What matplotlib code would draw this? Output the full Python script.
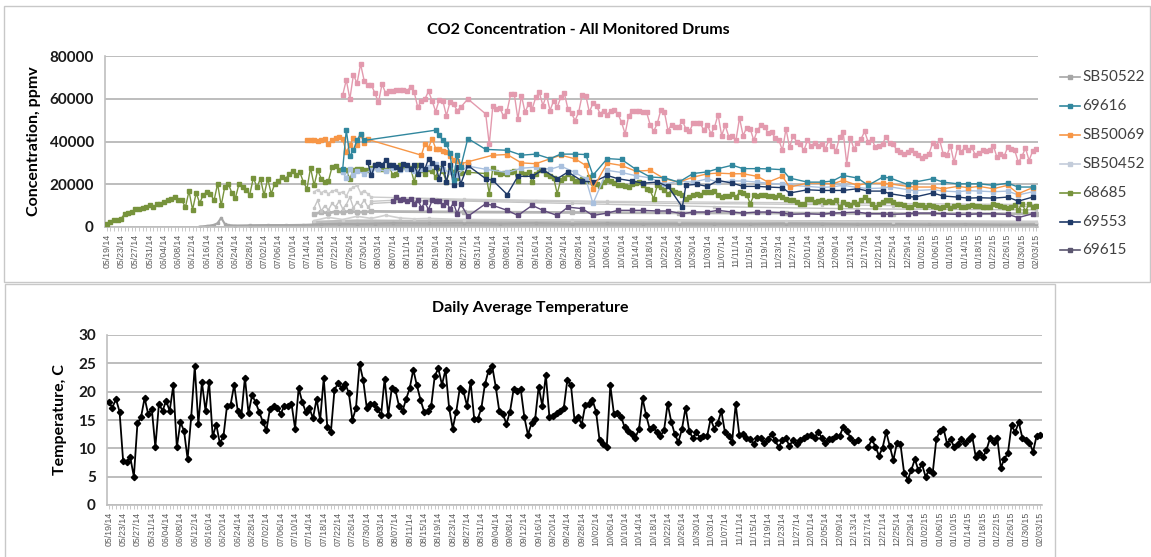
import matplotlib

matplotlib.use('Agg')
import matplotlib.pyplot as plt
from matplotlib.lines import Line2D
from matplotlib.patches import Rectangle
import numpy as np
import pandas as pd

# categories: one per day
start_date = '2014-05-19'
end_date = '2015-02-03'
dates = pd.date_range(start_date, end_date, freq='D')
label_step = 4

# daily average temperature, C (None = no reading)
temp = [
    18.1, 17.2, 18.7, 16.5, 7.8, 7.6, 8.4, 5.0, 14.4, 15.5,
    18.9, 16.0, 17.0, 10.2, 17.9, 16.6, 18.4, 16.6, 21.1, 10.2,
    14.6, 13.1, 8.1, 15.5, 24.5, 14.3, 21.7, 16.6, 21.7, 12.1,
    14.2, 10.9, 12.1, 17.5, 17.7, 21.2, 16.6, 15.8, 22.5, 16.2,
    19.4, 18.1, 16.4, 14.7, 13.2, 17.0, 17.4, 17.2, 16.1, 17.5,
    17.5, 17.9, 13.5, 20.6, 18.2, 16.4, 17.1, 15.3, 18.7, 15.0,
    22.4, 13.8, 12.9, 20.3, 21.5, 20.6, 21.4, 19.8, 15.0, 17.1,
    24.9, 22.1, 17.2, 17.9, 17.8, 16.9, 15.8, 22.3, 15.9, 20.6,
    20.3, 17.5, 16.6, 18.7, 20.6, 23.9, 21.1, 18.6, 16.5, 16.6,
    17.5, 22.8, 24.1, 21.2, 23.9, 17.1, 13.5, 16.5, 20.7, 20.1,
    17.5, 21.7, 15.2, 15.2, 17.1, 21.3, 23.7, 24.6, 20.9, 16.6,
    16.1, 14.3, 16.5, 20.4, 20.1, 20.4, 15.5, 12.4, 14.4, 15.1,
    20.9, 17.5, 22.9, 15.5, 15.7, 16.2, 16.6, 17.1, 22.1, 21.2,
    15.0, 15.6, 14.2, 17.6, 17.8, 18.6, 16.5, 11.4, 10.8, 10.3,
    21.1, 16.1, 16.3, 15.6, 13.7, 13.1, 12.5, 11.9, 13.4, 18.8,
    15.8, 13.4, 13.8, 12.8, 12.2, 13.2, 17.9, 14.7, 12.5, 11.1,
    13.4, 17.2, 13.1, 11.8, 12.8, 11.9, 12.2, 12.1, 15.2, 13.5,
    14.5, 16.6, 12.8, 12.1, 11.2, 17.8, 12.4, 12.6, 11.8, 11.6,
    10.8, 11.8, 11.8, 10.9, 11.6, 12.5, 11.4, 10.2, 11.4, 11.8,
    10.4, 11.5, 10.8, 11.4, 11.9, 12.2, 12.4, 11.9, 12.9, 11.9,
    11.0, 11.6, 11.6, 12.2, 12.2, 13.7, 13.1, 11.9, 11.1, 11.4,
    None, None, 10.2, 11.6, 10.3, 8.7, 10.1, 12.9, 10.4, 7.9,
    10.9, 10.7, 5.7, 4.5, 6.1, 8.1, 6.1, 7.2, 5.0, 6.2,
    5.7, 11.6, 13.1, 13.5, 10.8, 11.6, 10.2, 10.8, 11.6, 11.0,
    11.6, 12.2, 8.5, 9.2, 8.4, 9.7, 11.8, 11.2, 11.9, 6.6,
    8.1, 9.2, 14.1, 12.8, 14.6, 11.9, 11.4, 11.0, 9.4, 12.2,
    12.4,
]

# CO2, thousands of ppmv
# 68685, daily from the first day
green_start = 0
green_vals = [
    1.6, 2.3, 3.1, 3.4, 3.9, 6.2, 6.5, 7.0, 8.4, 8.4,
    8.7, 9.3, 10.1, 9.3, 10.6, 10.6, 11.7, 12.4, 13.2, 14.0,
    12.8, 12.4, 9.3, 16.8, 8.1, 15.9, 11.2, 15.2, 16.3, 15.6,
    12.4, 20.2, 10.1, 18.7, 20.2, 15.9, 13.7, 20.2, 18.7, 17.1,
    15.2, 23.0, 18.7, 22.6, 14.8, 22.6, 15.6, 20.2, 21.5, 23.3,
    22.6, 24.6, 26.1, 24.1, 25.7, 21.0, 17.9, 27.7, 19.5, 26.5,
    22.6, 21.0, 21.5, 28.0, 28.6, 26.5, 26.1, 26.5, 22.6, 26.8,
    27.2, 27.2, 26.5, 26.8, 27.7, 28.8, 27.2, 27.2, 26.5, 28.8,
    24.1, 24.6, 28.8, 28.3, 28.0, 27.7, 21.0, 28.8,
    26.5, 25.0, 27.0, 26.0, 23.5, 27.5, 26.0, 21.0, 26.8, 25.5,
    23.0, 25.2, None, 25.6, None, None, None, None, 25.0, 15.6,
    27.7, 25.7, 24.9, 25.2, 24.9, 25.7, 26.0, 21.3, 25.7, 24.9,
    25.7, 21.0, 24.9, 26.8, 26.5, 24.9, 23.7, 23.0, 15.6, 22.1,
    23.0, 24.9, 23.0, 21.5, 21.5, 22.6, 21.5, 23.3, 20.5, 20.2,
    19.0, 21.0, 22.1, 21.5, 20.5, 19.5, 19.5, 19.0, 18.7, 20.2,
    20.5, 21.0, 19.5, 17.9, 17.1, 13.2, 19.5, 18.7, 17.1, 15.6,
    17.1, 16.3, 15.9, 15.2, 13.2, 14.0, 15.2, 15.6, 14.8, 16.3,
    16.3, 16.3, 16.8, 14.8, 14.0, 14.3,
    14.3, 15.6, 14.0, 16.3, 15.9, 15.2, 10.9, 14.8, 14.3, 14.8,
    14.8, 14.3, 14.5, 14.0, 15.2, 14.0, 13.2, 12.8, 12.4, 11.7,
    10.9, 10.6, 13.2, 13.2, 11.7, 12.1, 12.4, 11.7, 12.1, 11.7,
    12.8, 9.3, 11.7, 10.9, 10.1, 11.7, 10.9, 12.4, 14.0, 12.4,
    10.6, 9.3, 10.9, 11.7, 12.4, 12.8, 11.7, 10.9, 10.6, 10.1,
    9.3, 9.3, 10.9, 10.1, 10.1, 9.3, 10.1, 9.6, 9.3, 9.0,
    9.3, 10.1, 9.0, 9.6, 10.1, 9.3, 9.3, 9.6, 10.1, 9.6,
    9.6, 9.3, 9.3, 9.3, 10.9, 10.1, 9.6, 9.3, 9.0, 9.3,
    10.1, 8.1, 10.9, 7.5, 10.6, 9.3, 9.6,
]

# pink drum (legend entry cut off), daily from 07/24
pink_start = 66
pink_vals = [
    61.8, 68.8, 59.9, 71.3, 67.2, 76.2, 68.5, 66.4, 66.6, 62.6,
    58.3, 66.9, 62.6, 63.5, 63.8, 64.1, 64.1, 64.1, 63.5, 65.7,
    63.0, 56.0, 59.1, 59.9, 63.5, 59.1, 54.0, 59.6, 59.1, 52.1,
    58.3, 57.6, 54.5, 56.0, None, 59.9, None, None, None, None,
    52.9, 38.6, 56.8, 55.2, 55.5, 51.7, 54.5, 62.2, 62.2, 50.4,
    61.5, 53.7, 57.6, 55.2, 60.7, 63.0, 56.8, 61.9, 54.5, 59.1,
    56.0, 60.7, 62.6, 55.2, 53.2, 49.8, 53.7, 61.8, 61.5, 53.7,
    57.9, 56.8, 52.9, 54.5, 52.6, 54.5, 54.8, 52.9, 49.0, 43.6,
    52.1, 54.1, 54.5, 54.1, 53.8, 53.7, 47.9, 44.8, 48.5, 54.8,
    53.7, 45.1, 47.9, 47.0, 46.7, 49.8, 45.9, 44.7, 48.5, 48.5,
    48.5, 45.4, 47.9, 43.6, 46.7, 52.6, 42.8, 47.5, 42.3, 42.8,
    40.5, 51.0, 42.8, 46.4, 45.9, 40.5, 45.4, 47.5, 47.0, 43.9,
    44.3, 41.7, 40.8, 35.8, 45.9, 37.3, 42.8, 39.7, 38.9, 35.8,
    40.5, 38.1, 39.2, 38.1, 38.6, 36.6, 40.5, 38.1, 35.5, 42.0,
    44.3, 29.6, 41.7, 36.6, 39.2, 41.2, 44.7, 39.7, 41.2, 37.3,
    38.1, 38.9, 42.3, 39.2, 38.9, 35.8, 35.0, 34.2, 35.0, 35.8,
    34.5, 33.9, 32.4, 33.0, 34.2, 39.2, 38.1, 40.5, 34.2, 33.5,
    38.1, 30.3, 37.3, 35.0, 37.3, 35.8, 37.3, 33.5, 34.5, 35.8,
    35.5, 35.8, 38.1, 32.7, 34.2, 33.0, 37.3, 36.6, 35.8, 30.3,
    33.0, 37.0, 31.1, 35.5, 36.6,
]

# 69616
teal_days = [66, 67, 68, 69, 70, 71, 72, 92, 93, 94, 95, 96, 97, 98, 99, 101,
             106, 112, 116, 120, 124, 127, 131, 134, 136, 140, 144, 148, 152, 156,
             160, 164, 168, 171, 175, 178, 182, 185, 189, 191, 196, 200, 203, 206,
             210, 213, 217, 219, 224, 226, 231, 234, 238, 241, 244, 248, 252, 255, 259]
teal_vals = [27.2, 45.4, 33.0, 36.1, 40.5, 43.6, 40.5, 45.3, 43.0, 40.6, 39.0, 34.5, 22.0, 33.5, 28.0, 41.4,
             36.3, 35.9, 33.6, 34.1, 32.0, 34.1, 34.1, 33.9, 24.2, 32.0, 31.6, 27.0, 23.4, 23.0,
             21.0, 25.0, 25.8, 27.3, 28.9, 27.3, 27.3, 27.2, 26.8, 22.9, 21.0, 21.0, 21.5, 24.1,
             22.9, 19.5, 23.3, 23.0, 19.9, 21.0, 22.6, 21.0, 20.2, 20.2, 20.2, 19.5, 20.5, 18.7, 18.7]

# SB50069
orange_days = [56, 57, 58, 59, 60, 61, 62, 63, 64, 65, 66, 67, 68, 69, 70, 71, 72, 73,
               88, 89, 90, 91, 92, 93, 94, 95, 96, 97, 98, 99, 101, 108, 112, 116, 120,
               124, 127, 131, 134, 136, 140, 144, 148, 152, 156, 160, 164, 168, 171, 175,
               178, 182, 185, 189, 191, 196, 200, 203, 206, 210, 213, 217, 219, 224, 226,
               231, 234, 238, 241, 244, 248, 252, 255, 259]
orange_vals = [40.5, 40.5, 40.8, 40.2, 40.6, 41.0, 39.0, 40.8, 41.5, 42.0, 41.2, 35.0, 38.5, 41.5, 38.5, 43.0, 39.5, 41.0,
               33.6, 39.0, 37.0, 41.4, 36.7, 36.5, 35.5, 35.0, 33.0, 31.5, 31.0, 29.5, 30.5, 33.6, 33.9, 30.0, 29.6,
               31.9, 33.6, 31.9, 28.8, 18.0, 29.9, 28.8, 26.1, 26.5, 22.6, 21.0, 23.3, 24.9, 25.2, 24.9,
               24.9, 23.7, 21.0, 23.7, 18.7, 20.5, 20.5, 20.2, 21.8, 19.5, 20.5, 20.5, 20.2, 19.0, 18.7,
               18.7, 17.9, 19.0, 18.4, 19.0, 17.9, 19.5, 15.6, 18.4]

# SB50452
lblue_days = [66, 67, 68, 69, 70, 72, 74, 76, 78, 80, 82, 84, 86, 88, 90, 92, 94, 96, 98, 101,
              106, 112, 116, 120, 124, 127, 131, 134, 136, 140, 144, 148, 152, 156, 160, 164,
              168, 171, 175, 178, 182, 185, 189, 191, 196, 200, 203, 206, 210, 213, 217, 219,
              224, 226, 231, 234, 238, 241, 244, 248, 252, 255, 259]
lblue_vals = [25.5, 23.0, 27.0, 24.5, 26.0, 25.0, 26.5, 27.0, 26.0, 27.5, 26.8, 27.2, 26.0, 27.0, 28.0, 29.5, 27.0, 25.5, 24.5, 28.5,
              27.0, 25.5, 27.5, 28.0, 27.0, 28.5, 25.5, 22.5, 11.0, 26.5, 25.5, 24.0, 23.0, 20.0, 21.5, 21.0,
              22.5, 21.0, 21.5, 21.5, 21.0, 20.5, 20.0, 19.5, 19.0, 18.5, 18.8, 19.5, 18.5, 18.0, 18.2, 18.8,
              17.5, 17.0, 17.5, 16.8, 16.5, 17.0, 16.8, 16.5, 16.8, 15.0, 16.5]

# 69553
navy_days = [73, 74, 75, 76, 77, 78, 79, 80, 81, 82, 83, 84, 85, 86, 87, 88, 89, 90, 91, 92,
             93, 94, 95, 96, 97, 98, 99, 101, 106, 108, 112, 115, 119, 122, 126, 129, 133,
             136, 140, 143, 147, 150, 154, 157, 161, 162, 165, 168, 171, 175, 178, 182, 185,
             189, 191, 196, 200, 203, 206, 210, 213, 217, 219, 224, 226, 231, 234, 238, 241,
             244, 248, 252, 255, 259]
navy_vals = [30.3, 24.1, 28.8, 29.6, 28.8, 31.4, 28.8, 28.8, 28.3, 27.2, 29.6, 28.8, 27.2, 28.8, 24.9, 28.8, 27.2, 31.9, 29.9, 28.3,
             22.6, 29.9, 21.0, 28.8, 19.5, 28.0, 20.2, 28.8, 22.6, 21.8, 15.2, 23.7, 23.7, 26.8, 22.6, 25.7, 21.5,
             21.0, 24.1, 22.6, 21.5, 20.5, 21.0, 19.0, 9.3, 19.5, 20.0, 19.0, 21.8, 20.5, 19.0, 19.0, 18.7,
             18.4, 15.9, 17.4, 17.1, 17.1, 17.1, 17.9, 16.8, 16.8, 15.6, 14.3, 14.0, 15.9, 14.5, 14.0, 13.5,
             13.7, 13.5, 14.0, 12.1, 14.0]

# 69615
purple_days = [80, 81, 82, 83, 84, 85, 86, 87, 88, 89, 90, 91, 92, 93, 94, 95, 96, 97, 98, 99,
               101, 106, 108, 112, 115, 119, 122, 126, 129, 133, 136, 140, 143, 147, 150,
               154, 157, 161, 164, 168, 171, 175, 178, 182, 185, 189, 191, 196, 200, 203,
               206, 210, 213, 217, 219, 224, 226, 231, 234, 238, 241, 244, 248, 252, 255, 259]
purple_vals = [12.1, 14.0, 12.4, 13.2, 12.1, 13.2, 10.9, 12.8, 9.0, 11.5, 8.1, 12.4, 12.1, 12.1, 10.1, 11.7, 8.6, 11.2, 6.2, 10.9,
               5.0, 10.9, 10.1, 7.8, 5.4, 10.1, 7.8, 5.4, 9.3, 8.6, 5.4, 6.5, 7.8, 7.8, 7.8,
               7.5, 7.5, 6.2, 7.0, 7.0, 7.8, 7.0, 6.5, 7.0, 7.0, 6.7, 5.9, 6.2, 5.9, 6.5,
               6.7, 7.0, 6.2, 6.2, 5.9, 6.2, 6.5, 6.5, 6.2, 5.9, 5.9, 6.2, 6.2, 5.9, 4.4, 6.2]

# SB50522
sb50522_days = [26, 28, 30, 31, 32, 33, 34, 36, 40, 45, 50, 55, 60, 65, 70, 75, 80, 90, 100, 110,
                120, 130, 140, 150, 160, 170, 180, 190, 200, 210, 220, 230, 240, 250, 260]
sb50522_vals = [0.2, 0.5, 1.0, 1.8, 4.3, 1.5, 0.9, 0.7, 0.8, 0.9, 0.9, 1.0, 1.3, 1.5, 1.4, 1.6, 1.8, 1.7, 1.9, 1.6,
                1.8, 1.5, 1.7, 1.5, 1.6, 1.5, 1.4, 1.6, 1.5, 1.3, 1.4, 1.2, 1.3, 1.1, 1.2]

# other drums, grey, no legend entry
grey2_days = [58, 59, 60, 61, 62, 63, 64, 65, 66, 67, 68, 69, 70, 71, 72, 73, 74, 100, 140, 180, 220, 260]
grey2_vals = [16.5, 17.5, 16.0, 17.0, 15.5, 16.8, 17.2, 15.8, 16.5, 14.5, 17.8, 18.5, 19.5, 16.0, 17.0, 15.5, 14.0,
              13.0, 12.0, 11.5, 11.0, 10.5]
grey3_days = [58, 59, 60, 61, 62, 63, 64, 65, 66, 67, 68, 69, 70, 71, 72, 73, 74, 90, 130, 170, 210, 260]
grey3_vals = [9.0, 12.5, 7.5, 10.0, 8.0, 11.0, 9.5, 12.0, 8.5, 10.5, 14.0, 9.0, 11.5, 10.0, 12.5, 9.5, 11.0,
              12.5, 11.0, 9.5, 8.5, 8.0]
grey4_days = [58, 60, 62, 64, 66, 68, 70, 72, 74, 100, 130, 160, 190, 220, 260]
grey4_vals = [6.0, 7.0, 6.5, 7.2, 6.8, 7.5, 6.9, 7.0, 7.3, 7.0, 6.8, 6.6, 6.5, 6.3, 6.2]
grey5_days = [58, 62, 66, 70, 74, 78, 82, 86, 90, 100, 130, 160, 190, 220, 260]
grey5_vals = [3.0, 4.5, 3.5, 5.0, 4.0, 5.5, 4.2, 3.8, 4.0, 3.5, 3.2, 3.0, 2.8, 2.5, 2.4]
grey6_days = [74, 80, 86, 92, 100, 120, 140, 160, 180, 200, 220, 240, 260]
grey6_vals = [12.0, 12.5, 12.0, 13.0, 12.5, 12.0, 11.5, 11.0, 10.8, 10.5, 10.0, 9.8, 9.5]
grey7_days = [40, 60, 80, 100, 130, 160, 200, 260]
grey7_vals = [0.3, 0.6, 0.8, 1.0, 0.9, 1.0, 0.8, 0.7]
grey8_days = [58, 70, 85, 100, 130, 160, 190, 220, 260]
grey8_vals = [2.0, 2.6, 2.4, 2.8, 2.5, 2.6, 2.3, 2.2, 2.0]
grey9_days = [60, 80, 100, 130, 160, 190, 220, 240, 260]
grey9_vals = [1.2, 1.6, 1.5, 1.8, 1.6, 1.5, 1.4, 1.3, 1.4]

legend_names = ['SB50522', '69616', 'SB50069', 'SB50452', '68685', '69553', '69615']
legend_colors = ['#A6A6A6', '#31879E', '#F79646', '#C3CCDA', '#77933C', '#1F3A68', '#5B5670']

F = 'Lato'
plt.rcParams['font.family'] = [F, 'DejaVu Sans']

fig = plt.figure(figsize=(11.51, 5.57), dpi=100)
W, H = 1151.0, 557.0


def fx(px):
    return px / W


def fy(px):
    return 1 - px / H


# chart frames
fig.patches.append(Rectangle((fx(4), fy(282)), fx(1146), 276 / H, transform=fig.transFigure,
                             fill=False, ec='#C8C8C8', lw=1.0))
fig.patches.append(Rectangle((fx(5), -0.01), fx(1050), (557 - 284) / H + 0.01, transform=fig.transFigure,
                             fill=False, ec='#C8C8C8', lw=1.0))

ax1 = fig.add_axes([fx(105), fy(227), fx(1038 - 105), (227 - 56) / H])
ax2 = fig.add_axes([fx(107), fy(505), fx(1042 - 107), (505 - 335) / H])

n = len(dates)
xpos = np.arange(n)


def plot_daily(ax, start, vals, color, ms, lw=1.0, z=2):
    d = [start + i for i, v in enumerate(vals) if v is not None]
    v = [vals[i] * 1000 for i in range(len(vals)) if vals[i] is not None]
    ax.plot(d, v, color=color, lw=lw, marker='s', ms=ms, mec=color, mfc=color, zorder=z)


def plot_sparse(ax, days, vals, color, ms, lw=1.0, z=2):
    ax.plot(days, np.array(vals) * 1000, color=color, lw=lw, marker='s', ms=ms, mec=color, mfc=color, zorder=z)


# grey clutter first
plot_sparse(ax1, grey9_days, grey9_vals, '#A8A8A8', 2, lw=4.0, z=1)
plot_sparse(ax1, grey7_days, grey7_vals, '#B0B0B0', 2, lw=2.5, z=1)
plot_sparse(ax1, grey8_days, grey8_vals, '#BDBDBD', 2, lw=3.0, z=1)
plot_sparse(ax1, sb50522_days, sb50522_vals, '#A6A6A6', 2, lw=1.5, z=1)
plot_sparse(ax1, grey5_days, grey5_vals, '#CFCFCF', 2, lw=1.2, z=1)
plot_sparse(ax1, grey4_days, grey4_vals, '#B5B5B5', 2.5, lw=2.0, z=1)
plot_sparse(ax1, grey3_days, grey3_vals, '#C4C4C4', 2, lw=1.0, z=1)
plot_sparse(ax1, grey2_days, grey2_vals, '#CCCCCC', 2, lw=1.0, z=1)
plot_sparse(ax1, grey6_days, grey6_vals, '#C8C8C8', 2, lw=1.0, z=1)

plot_daily(ax1, pink_start, pink_vals, '#E39AAE', 3.0, lw=1.0)
plot_daily(ax1, green_start, green_vals, '#77933C', 3.2, lw=1.0, z=3)
plot_sparse(ax1, purple_days, purple_vals, '#5F4B7B', 3.2, z=3)
plot_sparse(ax1, lblue_days, lblue_vals, '#A9C0DE', 3.2, z=3)
plot_sparse(ax1, navy_days, navy_vals, '#1F3A68', 3.4, z=4)
plot_sparse(ax1, orange_days, orange_vals, '#F79646', 3.4, z=4)
plot_sparse(ax1, teal_days, teal_vals, '#31879E', 3.4, z=5)

# temperature
t = np.array([np.nan if v is None else v for v in temp], dtype=float)
ax2.plot(xpos, t, color='black', lw=1.3, marker='D', ms=3.2, zorder=3)

tick_pos = xpos[::label_step]
tick_lab = [d.strftime('%m/%d/%y') for d in dates[::label_step]]

for ax, ymax, ystep in [(ax1, 80000, 20000), (ax2, 30, 5)]:
    ax.set_xlim(-0.5, n - 0.5)
    ax.set_ylim(0, ymax)
    ax.set_yticks(np.arange(0, ymax + 1, ystep))
    ax.grid(axis='y', color='#B8B8B8', lw=1.3)
    ax.set_axisbelow(True)
    for s in ['top', 'right']:
        ax.spines[s].set_visible(False)
    ax.spines['left'].set_color('#BFBFBF')
    ax.spines['bottom'].set_color('#BFBFBF')
    ax.spines['left'].set_linewidth(1.2)
    ax.spines['bottom'].set_linewidth(1.2)
    ax.set_xticks(tick_pos)
    ax.set_xticklabels(tick_lab, rotation=90, fontsize=6.3, color='#595959', family='Liberation Sans')
    ax.set_xticks(xpos, minor=True)
    ax.tick_params(axis='x', which='both', length=3, width=0.6, color='#BFBFBF', pad=2)
    ax.tick_params(axis='y', length=0, pad=8)
    for lab in ax.get_yticklabels():
        lab.set_fontsize(11)
        lab.set_fontweight('bold')
        lab.set_color('#1A1A1A')

ax1.set_ylabel('Concentration, ppmv', fontsize=11.5, fontweight='bold', labelpad=6)
ax2.set_ylabel('Temperature, C', fontsize=11.5, fontweight='bold', labelpad=8)

fig.text(fx(578), fy(30), 'CO2 Concentration - All Monitored Drums', ha='center', va='center',
         fontsize=11.5, fontweight='bold')
fig.text(fx(530), fy(308), 'Daily Average Temperature', ha='center', va='center',
         fontsize=11.5, fontweight='bold')

# legend drawn by hand at the right of the top chart
row_y = [77, 106, 135, 164, 193, 222, 250]
for name, col, y in zip(legend_names, legend_colors, row_y):
    fig.add_artist(Line2D([fx(1060), fx(1080)], [fy(y), fy(y)], transform=fig.transFigure,
                          color=col, lw=1.2, marker=None))
    fig.add_artist(Line2D([fx(1070)], [fy(y)], transform=fig.transFigure,
                          color=col, marker='s', ms=3.2, mec=col, mfc=col))
    fig.text(fx(1082), fy(y), name, ha='left', va='center', fontsize=11, color='#404040')

fig.savefig('out.png', dpi=100)
